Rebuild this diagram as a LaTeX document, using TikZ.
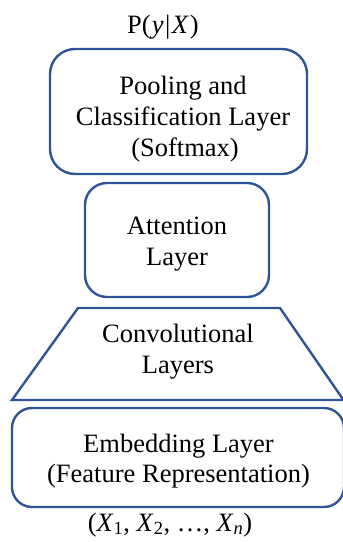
\documentclass[tikz,border=0pt]{standalone}
\usepackage{fontspec}
\setmainfont{Liberation Serif}
\definecolor{boxblue}{HTML}{2F5597}
\begin{document}
\begin{tikzpicture}[x=1pt,y=-1pt,
  layerbox/.style={draw=boxblue, line width=2.4pt, rounded corners=#1, inner sep=0pt},
  convbox/.style={draw=boxblue, line width=2.4pt, line join=miter},
  txt/.style={anchor=base, inner sep=0pt, font=\fontsize{26.5}{31.5}\selectfont}]
\useasboundingbox (0,0) rectangle (343,542);
\clip (0,0) rectangle (343,542);
% boxes
\node[layerbox=25pt, minimum width=257pt, minimum height=125pt] (pool) at (178.5,111.5) {};
\node[layerbox=22pt, minimum width=184pt, minimum height=114pt] (att) at (177,240) {};
\coordinate (convTL) at (78,308);
\coordinate (convTR) at (280,308);
\coordinate (convBR) at (343.5,400);
\coordinate (convBL) at (12,400);
\draw[convbox] (convTL) -- (convTR) -- (convBR) -- (convBL) -- cycle;
\node[layerbox=20pt, minimum width=332pt, minimum height=99pt] (emb) at (178,457.5) {};
% texts
\node[txt] (out) at (163,33) {P(\kern1pt\textit{y}\kern1.5pt|\kern1.5pt\textit{X}\kern1pt)};
\node[txt] (pool1) at (183,94) {Pooling and};
\node[txt] (pool2) at (183,125) {Classification Layer};
\node[txt] (pool3) at (185,156) {(Softmax)};
\node[txt] (att1) at (177,234) {Attention};
\node[txt] (att2) at (177,265) {Layer};
\node[txt] (conv1) at (178,342) {Convolutional};
\node[txt] (conv2) at (178,373) {Layers};
\node[txt] (emb1) at (178.5,452) {Embedding Layer};
\node[txt] (emb2) at (178.5,482) {(Feature Representation)};
\node[txt] (in) at (170,531) {(\textit{X}\textsubscript{1}, \textit{X}\textsubscript{2}, \ldots, \textit{X}\textsubscript{\textit{n}})};
\end{tikzpicture}
\end{document}
